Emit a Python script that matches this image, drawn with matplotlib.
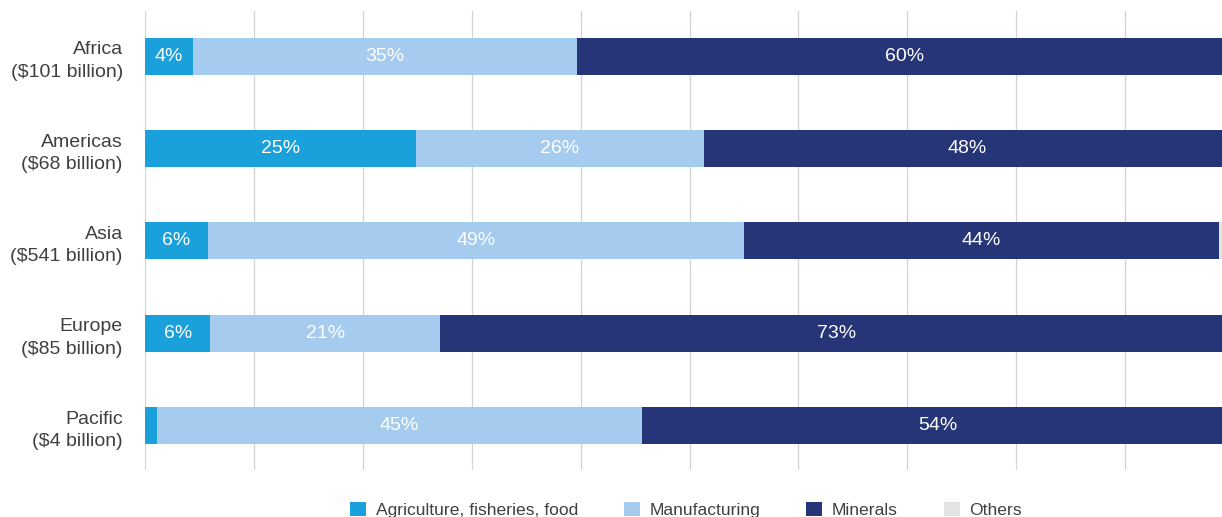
import matplotlib
matplotlib.use("Agg")
import matplotlib.pyplot as plt
import numpy as np

regions = ["Africa\n($101 billion)", "Americas\n($68 billion)", "Asia\n($541 billion)",
           "Europe\n($85 billion)", "Pacific\n($4 billion)"]
series_names = ["Agriculture, fisheries, food", "Manufacturing", "Minerals", "Others"]
agriculture = [4.4, 24.9, 5.8, 6.0, 1.1]
manufacturing = [35.3, 26.4, 49.2, 21.1, 44.5]
minerals = [60.1, 48.4, 43.6, 72.9, 54.4]
others = [0.2, 0.3, 1.4, 0.0, 0.0]
agri_labels = ["4%", "25%", "6%", "6%", ""]
manu_labels = ["35%", "26%", "49%", "21%", "45%"]
mine_labels = ["60%", "48%", "44%", "73%", "54%"]
colors = ["#1aa0db", "#a5cbee", "#263577", "#e2e4e2"]

plt.rcParams['font.family'] = ['Liberation Sans', 'DejaVu Sans']

W, H = 1222, 517
fig = plt.figure(figsize=(W / 100, H / 100), dpi=100)
ax = fig.add_axes([145 / W, 1 - 470 / H, (1234 - 145) / W, (470 - 11) / H])

y = np.arange(len(regions))
data = [agriculture, manufacturing, minerals, others]
labels = [agri_labels, manu_labels, mine_labels, [""] * len(regions)]
left = np.zeros(len(regions))
handles = []
for vals, col, name, labs in zip(data, colors, series_names, labels):
    vals = np.array(vals)
    b = ax.barh(y, vals, left=left, height=0.40, color=col, label=name, zorder=3)
    handles.append(b)
    for i, (v, l) in enumerate(zip(vals, labs)):
        if l:
            ax.text(left[i] + v / 2, y[i], l, ha="center", va="center",
                    color="white", fontsize=14, zorder=4)
    left += vals

ax.set_xlim(0, 100)
ax.set_ylim(4.48, -0.49)
ax.set_xticks(np.arange(0, 101, 10))
ax.xaxis.grid(True, color="#d3d3d3", linewidth=0.9, zorder=0)
ax.tick_params(axis="x", length=0, labelbottom=False)
ax.set_yticks(y)
ax.set_yticklabels(regions, fontsize=14, color="#404040", linespacing=1.42, ha="right")
ax.tick_params(axis="y", length=0, pad=16)
for s in ax.spines.values():
    s.set_visible(False)

fig.legend(handles=handles, labels=series_names, loc="center left",
           bbox_to_anchor=(350 / W, 1 - 510 / H), ncol=4, frameon=False,
           fontsize=12.6, handlelength=0.91, handleheight=0.91, handletextpad=0.55,
           columnspacing=2.63, labelcolor="#404040", borderaxespad=0, borderpad=0)

fig.savefig("out.png", dpi=100)
